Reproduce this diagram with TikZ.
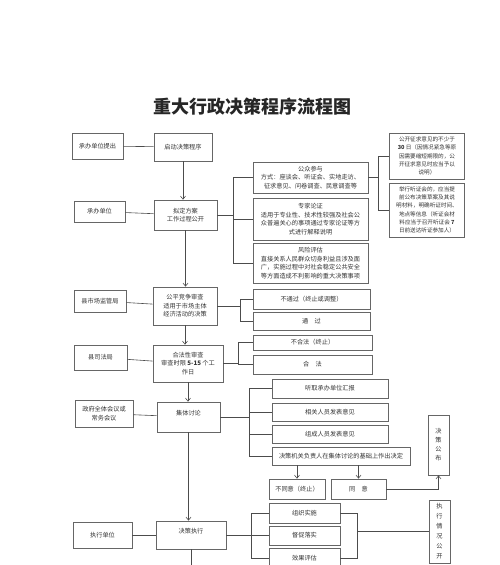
\documentclass[tikz,border=0pt]{standalone}
\usepackage{fontspec}
\setmainfont{Noto Sans CJK SC}
\usetikzlibrary{arrows.meta}
\tikzset{
  box/.style={draw=black!60, line width=0.8pt, inner sep=1pt, align=center,
    font=\fontsize{6.2}{8.6}\selectfont, text=black!80},
  rbox/.style={box, font=\fontsize{5.6}{8.3}\selectfont},
  ln/.style={draw=black!70, line width=0.6pt},
  arr/.style={ln, -{Straight Barb[length=3pt,width=5pt]}},
}
\begin{document}
\begin{tikzpicture}[x=1pt,y=-1pt]
\useasboundingbox (0,0) rectangle (500,565);
\clip (0,0) rectangle (500,565);
% title
\node[font=\fontsize{18}{20}\selectfont\bfseries, text=black!85] (title) at (252,107) {重大行政决策程序流程图};
% left column
\node[box, minimum width=51pt, minimum height=26pt] (a1) at (97.5,146) {承办单位提出};
\node[box, minimum width=58pt, minimum height=28pt] (b1) at (183,147) {启动决策程序};
\node[box, minimum width=63pt, minimum height=30pt] (b2) at (185.5,215) {拟定方案\\工作过程公开};
\node[box, minimum width=51pt, minimum height=21pt] (a2) at (99.5,211.5) {承办单位};
\node[box, minimum width=64pt, minimum height=38pt] (b3) at (185,306) {公平竞争审查\\适用于市场主体\\经济活动的决策};
\node[box, minimum width=52pt, minimum height=22pt] (a3) at (100,301) {县市场监管局};
\node[box, minimum width=70pt, minimum height=37pt] (b4) at (188,363.5) {合法性审查\\审查时限 \textbf{5-15} 个工\\作日};
\node[box, minimum width=53pt, minimum height=25pt] (a4) at (100.5,357.5) {县司法局};
\node[box, minimum width=63pt, minimum height=30pt] (b5) at (188.5,417) {集体讨论\\ \mbox{}};
\node[box, minimum width=58pt, minimum height=27pt] (a5) at (104,413.5) {政府全体会议或\\常务会议};
\node[box, minimum width=70pt, minimum height=28pt] (b6) at (191,535) {决策执行\\ \mbox{}};
\node[box, minimum width=59pt, minimum height=26pt] (a6) at (102.5,535) {执行单位};
% middle column (process)
\node[box, minimum width=115pt, minimum height=31pt] (c1) at (310.5,177.5) {公众参与\\方式：座谈会、听证会、实地走访、\\征求意见、问卷调查、民意调查等};
\node[box, minimum width=115pt, minimum height=42pt] (c2) at (310.5,219) {专家论证\\适用于专业性、技术性较强及社会公\\众普遍关心的事项通过专家论证等方\\式进行解释说明};
\node[box, minimum width=115pt, minimum height=40pt] (c3) at (310.5,263) {风险评估\\直接关系人民群众切身利益且涉及面\\广，实施过程中对社会稳定公共安全\\等方面造成不利影响的重大决策事项};
% right column
\node[rbox, minimum width=75pt, minimum height=46pt] (d1) at (427,156) {公开征求意见的不少于\\\textbf{30} 日（因情况紧急等原\\因需要缩短期限的，公\\开征求意见时应当予以\\说明）};
\node[rbox, minimum width=75pt, minimum height=54pt] (d2) at (427,210) {举行听证会的，应当提\\前公布决策草案及其说\\明材料，明确听证时间、\\地点等信息（听证会材\\料应当于召开听证会 \textbf{7}\\日前送达听证参加人）};
% review results
\node[box, minimum width=117pt, minimum height=20pt] (e1) at (311.5,299) {不通过（终止或调整）};
\node[box, minimum width=117pt, minimum height=18pt] (e2) at (311.5,321) {通\quad 过};
\node[box, minimum width=119pt, minimum height=15pt] (f1) at (312.5,342.5) {不合法（终止）};
\node[box, minimum width=119pt, minimum height=19pt] (f2) at (312.5,364.5) {合\quad 法};
% discussion
\node[box, minimum width=116pt, minimum height=19pt] (g1) at (330,388.5) {听取承办单位汇报};
\node[box, minimum width=116pt, minimum height=18pt] (g2) at (330,412) {相关人员发表意见};
\node[box, minimum width=116pt, minimum height=18pt] (g3) at (330,434) {组成人员发表意见};
\node[box, minimum width=138pt, minimum height=18pt] (g4) at (341,456) {决策机关负责人在集体讨论的基础上作出决定};
\node[box, minimum width=56pt, minimum height=20pt] (h1) at (297,489) {不同意（终止）};
\node[box, minimum width=55pt, minimum height=20pt] (h2) at (358.5,489) {同\quad 意};
\node[box, minimum width=21pt, minimum height=60pt, font=\fontsize{6.2}{9}\selectfont] (p1) at (438.5,445) {决\\策\\公\\布};
\node[box, minimum width=21pt, minimum height=63pt, font=\fontsize{6.2}{10}\selectfont] (p2) at (439.5,531.5) {执\\行\\情\\况\\公\\开};
% execution
\node[box, minimum width=71pt, minimum height=20pt] (k1) at (304.5,513) {组织实施};
\node[box, minimum width=71pt, minimum height=19pt] (k2) at (304.5,535.5) {督促落实};
\node[box, minimum width=71pt, minimum height=20pt] (k3) at (304.5,558) {效果评估};
% bracket x positions
\coordinate (xc) at (233,0);
\coordinate (xd) at (378,0);
\coordinate (xe) at (240,0);
\coordinate (xf) at (238,0);
\coordinate (xg) at (249,0);
\coordinate (xk) at (251,0);
\coordinate (xr) at (357,0);
\coordinate (bot) at (0,566);
% left connectors
\draw[ln] (a1) -- (b1);
\draw[ln] (a2) -- (b2);
\draw[ln] (a3) -- (b3);
\draw[ln] (a4) -- (b4);
\draw[ln] (a5) -- (b5);
\draw[ln] (a6) -- (b6);
% vertical flow
\draw[arr] (b1.south) -- (b1.south |- b2.north);
\draw[arr] (b2.south) -- (b2.south |- b3.north);
\draw[arr] (b3.south) -- (b3.south |- b4.north);
\draw[arr] (b4.south) -- (b4.south |- b5.north);
\draw[arr] (b5.south) -- (b5.south |- b6.north);
\draw[ln] (b6.south) -- (b6.south |- bot);
% bracket to c
\draw[ln] (b2.east) -- (b2.east -| xc);
\draw[ln] (c1.west) -- (c1.west -| xc) -- (c3.west -| xc) -- (c3.west);
\draw[ln] (c2.west) -- (c2.west -| xc);
% bracket to d
\draw[ln] (c1.east) -- (c1.east -| xd);
\draw[ln] (d1.west) -- (d1.west -| xd) -- (d2.west -| xd) -- (d2.west);
% bracket to e
\draw[ln] (b3.east) -- (b3.east -| xe);
\draw[ln] (e1.west) -- (e1.west -| xe) -- (e2.west -| xe) -- (e2.west);
% bracket to f
\draw[ln] (b4.east) -- (b4.east -| xf);
\draw[ln] (f1.west) -- (f1.west -| xf) -- (f2.west -| xf) -- (f2.west);
% bracket to g
\draw[ln] (b5.east) -- (b5.east -| xg);
\draw[ln] (g1.west) -- (g1.west -| xg) -- (g4.west -| xg) -- (g4.west);
\draw[ln] (g2.west) -- (g2.west -| xg);
\draw[ln] (g3.west) -- (g3.west -| xg);
% decision
\draw[arr] (h1.north |- g4.south) -- (h1.north);
\draw[arr] (h2.north |- g4.south) -- (h2.north);
\draw[arr] (h2.east) -- (h2.east -| p1.south) -- (p1.south);
% execution brackets
\draw[ln] (b6.east) -- (b6.east -| xk);
\draw[ln] (k1.west) -- (k1.west -| xk) -- (k3.west -| xk) -- (k3.west);
\draw[ln] (k2.west) -- (k2.west -| xk);
\draw[ln] (k1.east) -- (k1.east -| xr) -- (k3.east -| xr) -- (k3.east);
\draw[ln] (p2.west -| xr) -- (p2.west);
\end{tikzpicture}
\end{document}
